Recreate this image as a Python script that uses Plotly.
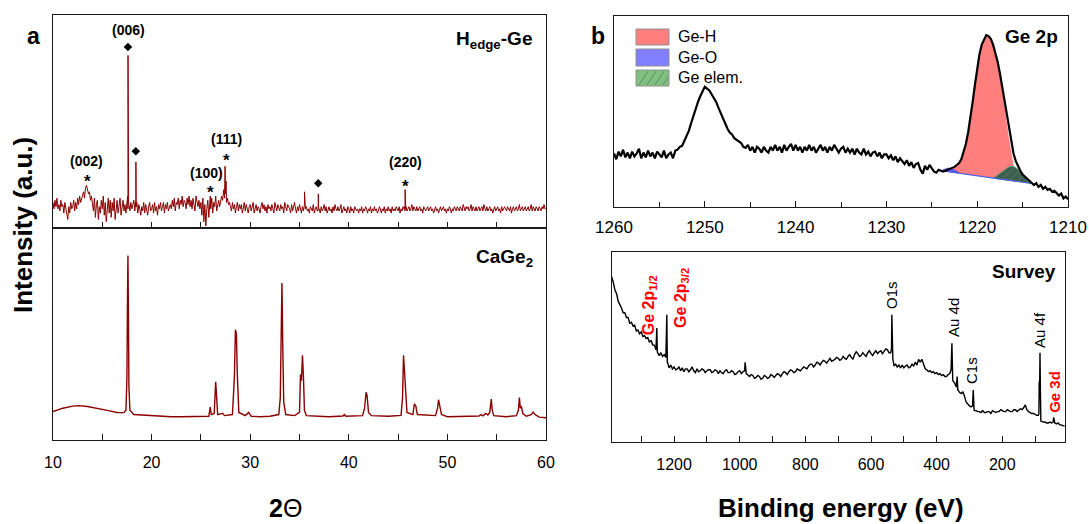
import numpy as np
import plotly.graph_objects as go

# ---------------- DATA ----------------
# (a) XRD, H_edge-Ge : baseline sampled every 0.1 deg from 10 to 60 (values read off picture)
xrd_top_start, xrd_top_step = 10.0, 0.1
xrd_top_base = [
    12, 9, 13, 10, 14, 9, 11, 8, 13, 10,
    11, 7, 12, 9, 6, 4, 10, 7, 12, 9,
    10, 13, 8, 12, 9, 14, 11, 15, 12, 14,
    15, 17, 14, 19, 20, 18, 16, 17, 13, 15,
    12, 8, 14, 5, 11, 13, 4, 10, 7, 13,
    9, 15, 6, 12, 3, 11, 14, 7, 13, 5,
    12, 8, 14, 4, 10, 13, 7, 11, 14, 6,
    10, 13, 8, 11, 7, 12, 9, 11, 8, 12,
    9, 11, 13, 8, 10, 12, 7, 11, 9, 6,
    10, 8, 12, 7, 11, 9, 6, 10, 12, 8,
    9, 11, 7, 12, 8, 10, 6, 11, 9, 12,
    8, 10, 12, 7, 11, 9, 12, 8, 10, 11,
    9, 13, 10, 14, 8, 12, 11, 14, 9, 13,
    11, 15, 10, 13, 12, 9, 14, 11, 15, 10,
    13, 9, 14, 11, 8, 15, 12, 10, 13, 9,
    12, 6, 14, 3, 11, 1, 9, 13, 5, 12,
    9, 14, 7, 12, 10, 15, 8, 11, 13, 10,
    12, 15, 13, 17, 14, 16, 12, 14, 11, 12,
    10, 8, 12, 9, 11, 7, 10, 12, 8, 11,
    9, 11, 7, 10, 12, 8, 11, 9, 7, 10,
    11, 8, 10, 12, 7, 9, 11, 8, 10, 9,
    7, 10, 12, 9, 11, 8, 10, 7, 11, 9,
    10, 8, 11, 9, 7, 12, 10, 8, 11, 9,
    8, 11, 9, 10, 7, 12, 9, 8, 11, 10,
    9, 7, 11, 8, 10, 12, 9, 7, 10, 8,
    11, 9, 7, 10, 8, 11, 9, 10, 8, 9,
    7, 10, 9, 8, 11, 7, 9, 10, 8, 10,
    9, 7, 10, 8, 9, 11, 8, 10, 7, 9,
    10, 8, 9, 7, 10, 8, 11, 9, 8, 10,
    8, 9, 11, 7, 9, 10, 8, 9, 7, 10,
    9, 7, 10, 8, 9, 7, 10, 9, 8, 9,
    7, 9, 8, 10, 7, 9, 8, 10, 9, 7,
    9, 8, 10, 7, 9, 8, 10, 8, 9, 7,
    8, 10, 9, 7, 9, 8, 10, 7, 9, 8,
    10, 8, 9, 7, 10, 8, 9, 8, 10, 9,
    8, 10, 7, 9, 8, 10, 9, 8, 10, 8,
    9, 10, 8, 9, 11, 8, 10, 9, 8, 10,
    8, 9, 10, 8, 9, 7, 10, 9, 8, 9,
    10, 8, 9, 10, 8, 9, 7, 9, 10, 8,
    9, 7, 9, 10, 8, 9, 10, 8, 9, 7,
    9, 8, 10, 9, 7, 9, 8, 10, 9, 8,
    10, 9, 8, 10, 9, 8, 11, 9, 8, 10,
    9, 10, 8, 9, 11, 8, 10, 9, 8, 10,
    8, 9, 10, 8, 9, 10, 8, 11, 9, 8,
    10, 8, 9, 10, 8, 9, 7, 9, 10, 8,
    9, 10, 8, 9, 7, 10, 8, 9, 10, 9,
    8, 10, 9, 8, 10, 7, 9, 10, 8, 9,
    10, 8, 9, 11, 8, 9, 10, 8, 9, 10,
    8, 9, 10, 8, 9, 11, 8, 10, 9, 8,
    10, 9, 8, 10, 9, 8, 10, 9, 11, 9,
    9,
]
xrd_top_peak_x = [17.57, 17.61, 17.64, 17.67, 18.37, 18.41, 18.44, 25.95,
                  27.32, 27.45, 27.55, 27.65, 35.47, 35.51, 35.54,
                  36.87, 36.91, 36.94, 45.67, 45.71, 45.75, 45.78]
xrd_top_peak_y = [15, 81, 78, 12, 12, 31, 10, 15,
                  18, 29, 22, 14, 10, 17, 9,
                  8, 16, 9, 10, 18, 14, 9]

# (a) XRD, CaGe2
xrd_bot_x = [10, 11, 12, 12.6, 13.5, 14.5, 15.5, 16.5, 17.2, 17.4, 17.5, 17.55, 17.6, 17.65, 17.7, 17.8,
             18.2, 19, 20, 21, 22, 23, 24, 25, 25.8, 25.95, 26.05, 26.35, 26.5, 26.6, 26.7, 27.2, 27.4,
             28.2, 28.4, 28.5, 28.6, 28.7, 28.85, 29.5, 29.85, 30.1, 31, 32, 32.9, 33.05, 33.15, 33.22,
             33.3, 33.4, 33.6, 34.5, 35.0, 35.1, 35.2, 35.3, 35.4, 35.5, 35.7, 37, 38, 39.4, 39.55, 39.7,
             41.4, 41.6, 41.75, 41.85, 42.0, 42.3, 44, 45.3, 45.45, 45.55, 45.65, 45.75, 45.9, 46.5,
             46.65, 46.8, 46.95, 48.8, 49.0, 49.1, 49.2, 49.4, 50, 52, 53.2, 53.4, 53.6, 53.9, 54.1,
             54.3, 54.45, 54.55, 54.7, 56, 57.0, 57.2, 57.3, 57.4, 57.5, 57.65, 58, 58.5, 58.7, 58.9,
             59.3, 60]
xrd_bot_y = [13.4, 15, 16, 16.2, 15.8, 15, 14, 13, 12.9, 14, 30, 65, 87, 60, 25, 14,
             12, 11.8, 11.5, 11.2, 11, 11, 11, 11, 11.2, 15.5, 12, 12.5, 27.5, 20, 12, 12.6, 11.5,
             12, 30, 52, 50, 30, 13, 11.5, 13, 11.2, 11, 11.2, 12, 20, 45, 74,
             45, 18, 12, 11.5, 13, 31, 28, 40, 30, 14, 11.5, 11.2, 11, 11.3, 12, 11.2,
             11.5, 15, 22.5, 21, 13, 11.5, 11.2, 11.6, 20, 40, 32, 22, 13, 12,
             17, 16, 12, 11.5, 15, 19, 17, 12, 11, 11, 11.3, 12, 11.4, 12.5, 11.8,
             13, 19.3, 14, 11.5, 11, 11.5, 14, 20, 15, 16, 12.5, 11.2, 12, 13.2, 12,
             10.8, 10.5]

# (b) XPS Ge 2p : sampled every 0.25 eV from 1260 down to 1210
ge2p_start, ge2p_step = 1260.0, -0.25
ge2p_y = [
    28, 25, 29, 26.5, 30, 26, 28.5, 25.5,
    29, 26.5, 28, 30.5, 25.5, 28.5, 26, 29.5,
    26.5, 28.5, 25.5, 29, 27.5, 26, 29.5, 25.5,
    27.5, 28.5, 25.5, 29.5, 30, 31.5, 32, 34.5,
    37, 40, 44, 48, 51, 55, 58, 61,
    63, 62, 61, 59, 57, 55, 52, 49,
    46, 44, 41, 39, 38, 36, 35, 34,
    33.5, 31.5, 31, 32.5, 29.5, 31.5, 28.5, 31.5,
    30.5, 28.5, 31.5, 29.5, 28.5, 31.5, 29.5, 32.5,
    29.5, 31.5, 28.5, 32.5, 29.5, 31.5, 33, 29.5,
    32.5, 29.5, 31.5, 28.5, 31.5, 29.5, 32.5, 29.5,
    31.5, 28.5, 30.5, 32.5, 29.5, 31.5, 28.5, 31.5,
    29.5, 32.5, 30.5, 28.5, 30.5, 31.5, 28.5, 30.5,
    28.5, 30.5, 27.5, 30.5, 28.5, 27.5, 30.5, 27.5,
    29, 26.5, 28.5, 29, 26.5, 28.5, 25.5, 27.5,
    27.5, 25.5, 27, 24.5, 26.5, 23.5, 25.5, 24,
    22.5, 24.5, 21.5, 23.5, 20.5, 22.5, 23, 19.5,
    17.5, 21.5, 19.5, 22, 20, 18.5, 18, 19.5,
    19, 18.5, 19, 19.5, 20, 20.5, 21, 22,
    23, 25, 29, 33, 39, 46, 55, 64,
    73, 80, 85, 88, 90, 89.5, 88, 85,
    81, 76, 70, 63, 56, 48, 40, 33,
    28, 24, 21, 19, 17, 16, 14.5, 14,
    13, 11.5, 12.5, 10.5, 11.5, 9.5, 10.5, 9,
    9.5, 8, 8.5, 7.5, 6, 7, 4.5, 5.5,
    4,
]
# fitted components (upper edge) and linear background end points
geh_x = [1223.5, 1223, 1222.5, 1222, 1221.5, 1221, 1220.5, 1220, 1219.5, 1219, 1218.75, 1218.5,
         1218, 1217.5, 1217, 1216.5, 1216, 1215.6, 1215.3]
geh_y = [18.9, 19.2, 20.5, 22.5, 28.5, 38.5, 54, 72, 84.5, 89.5, 89, 87.5,
         80.5, 69, 53, 36, 22, 15, 13.2]
geh_bg_x = [1215.3, 1223.5]
geh_bg_y = [13.2, 18.7]
geo_x = [1224, 1223.6, 1223.2, 1222.8, 1222.4, 1222.0]
geo_y = [19.0, 19.8, 20.4, 20.0, 19.2, 18.3]
geo_bg_x = [1222.0, 1224.0]
geo_bg_y = [18.0, 19.0]
geel_x = [1218.2, 1217.5, 1217, 1216.5, 1216.1, 1215.7, 1215.3, 1215, 1214.6, 1214.2, 1213.8]
geel_y = [15.2, 17.5, 19.5, 21, 21.3, 20.5, 18.5, 16.5, 14.5, 12.8, 12.2]
geel_bg_x = [1213.8, 1218.2]
geel_bg_y = [12.2, 15.1]

# (b) XPS survey : sampled every 5 eV from 1390 down to 10, plus peaks
surv_start, surv_step = 1390.0, -5.0
surv_base = [
    87, 84, 80, 78, 74, 72, 70.5, 68, 68, 65.5, 65.5, 62.5, 63, 61, 61.5, 58.5, 59, 57, 58, 55.5,
    56, 54.5, 55, 52.5, 53.5, 51, 51, 48.5, 47, 45.5, 47, 45, 46, 44.5, 42, 39, 40.5, 38.5, 39.5, 38,
    38.5, 39.5, 37.5, 39, 37, 38.5, 38.5, 37, 38, 39.5, 37.5, 36.5, 38.5, 37, 37.5, 38.5, 38, 36.5, 37.5, 38,
    38, 36.5, 37, 38, 37.5, 36, 37.5, 36.5, 36, 37.5, 38, 36.5, 36.5, 37.5, 37, 35.5, 36, 37, 37.5, 36,
    37, 37.5, 36, 35.5, 34.5, 35.5, 35, 33.5, 34, 35, 34.5, 33, 33.5, 35, 34.5, 33.5, 34, 35.5, 35, 34,
    35, 36, 35.5, 34.5, 36, 37, 36.5, 35.5, 37, 38, 37.5, 36.5, 37, 38.5, 38, 37.5, 38.5, 39.5, 39, 38.5,
    40, 41, 41, 39.5, 40.5, 42, 41.5, 40.5, 42, 43, 42.5, 41.5, 43, 44, 42.5, 43, 43.5, 44.5, 44, 43,
    43.5, 45, 44, 43.5, 45, 46, 44.5, 43.5, 46, 47.5, 46.5, 45, 45.5, 47, 46, 45, 47, 48, 46.5, 45.5,
    47, 48, 46.5, 47.5, 48, 46.5, 47.5, 49, 48.5, 47, 47, 55, 40, 41, 39.5, 40.5, 39, 40.5, 39, 40,
    40.5, 39, 39.5, 41, 40, 42, 40.5, 43.5, 42, 43.5, 41, 38.5, 38, 37, 37.5, 36.5, 37, 36, 36.5, 35.5,
    36, 35, 35.5, 34.5, 34.5, 35.5, 36, 44, 32, 31, 29, 27.5, 26, 25.5, 26.5, 24, 21, 20, 19, 18.5,
    21, 16.5, 16.5, 16, 16, 15.5, 16.5, 15.5, 15.5, 16, 16, 15, 16.5, 16, 15.5, 16, 16, 17, 16.5, 16,
    16, 17, 16.5, 16, 16, 17, 17, 16, 16.5, 17.5, 17, 18, 19.5, 17, 16, 15.5, 15, 15, 14.5, 14,
    14, 40, 11, 10.5, 10.5, 10, 10, 10.5, 10, 10.5, 10, 9.5, 10, 9, 9, 8.5, 8.5,
]
surv_peak_x = [1254, 1252.5, 1251, 1223.5, 1222, 1220.5, 983.5,
               537.5, 536.5, 533.5, 356, 353.5, 351, 339, 337.5, 335.5,
               290.5, 288.5, 286, 88.5, 87.5, 86.5, 85.2, 84, 82.5, 43.5]
surv_peak_y = [49, 60, 47.5, 45, 67, 42, 42,
               49, 67, 44, 38, 52, 33, 30, 34.5, 27,
               19, 27.4, 17, 15, 32, 25, 47, 28, 11, 13]

# ---------------- FIGURE ----------------
W, H = 1089, 524
def PX(p): return p / W
def PY(p): return 1 - p / H

def merged(xs, ys, px_, py_):
    x = np.concatenate([np.asarray(xs, float), np.asarray(px_, float)])
    y = np.concatenate([np.asarray(ys, float), np.asarray(py_, float)])
    o = np.argsort(x, kind="stable")
    return x[o], y[o]

top_grid = np.round(xrd_top_start + xrd_top_step * np.arange(len(xrd_top_base)), 3)
xt, yt = merged(top_grid, xrd_top_base, xrd_top_peak_x, xrd_top_peak_y)
ge2p_x = ge2p_start + ge2p_step * np.arange(len(ge2p_y))
surv_grid = surv_start + surv_step * np.arange(len(surv_base))
xs_, ys_ = merged(surv_grid, surv_base, surv_peak_x, surv_peak_y)

red = "#8B0000"
fig = go.Figure()
fig.add_trace(go.Scatter(x=xt, y=yt, mode="lines", line=dict(color=red, width=1), xaxis="x", yaxis="y"))
fig.add_trace(go.Scatter(x=xrd_bot_x, y=xrd_bot_y, mode="lines", line=dict(color=red, width=1.4), xaxis="x2", yaxis="y2"))

# XPS fitted components
fig.add_trace(go.Scatter(x=geh_x + geh_bg_x, y=geh_y + geh_bg_y, fill="toself", fillcolor="#FF7F7F",
                         line=dict(width=0), mode="lines", xaxis="x3", yaxis="y3"))
fig.add_trace(go.Scatter(x=geo_x + geo_bg_x, y=geo_y + geo_bg_y, fill="toself", fillcolor="#6060F0",
                         line=dict(width=0.8, color="#4040E0"), mode="lines", xaxis="x3", yaxis="y3"))
fig.add_trace(go.Scatter(x=geel_x + geel_bg_x, y=geel_y + geel_bg_y, fill="toself", fillcolor="#3E5E50",
                         fillpattern=dict(shape="/", bgcolor="#3E5E50", fgcolor="#7A9A8A", size=6, solidity=0.15),
                         line=dict(width=1, color="#4F9F6F"), mode="lines", xaxis="x3", yaxis="y3"))
fig.add_trace(go.Scatter(x=[geo_bg_x[1], geel_bg_x[0]], y=[geo_bg_y[1], geel_bg_y[0]], mode="lines",
                         line=dict(color="#5060E0", width=1.2), xaxis="x3", yaxis="y3"))
fig.add_trace(go.Scatter(x=ge2p_x, y=ge2p_y, mode="lines", line=dict(color="black", width=2.2), xaxis="x3", yaxis="y3"))
fig.add_trace(go.Scatter(x=xs_, y=ys_, mode="lines", line=dict(color="black", width=1.4), xaxis="x4", yaxis="y4"))

# diamond markers
dia_x = [17.6, 18.4, 36.9]
dia_y = [85, 36, 21]
fig.add_trace(go.Scatter(x=dia_x, y=dia_y, mode="markers", marker=dict(symbol="diamond", size=6.5, color="black"),
                         xaxis="x", yaxis="y"))

axline = dict(showline=True, mirror=True, linecolor="#1a1a1a", linewidth=1.4, showgrid=False, zeroline=False,
              automargin=False)
tickfont = dict(size=16, family="Arial, Liberation Sans", color="black")
xa_dom = [PX(53), PX(546)]
fig.update_layout(
    width=W, height=H, margin=dict(l=0, r=0, t=0, b=0, pad=0, autoexpand=False),
    paper_bgcolor="white", plot_bgcolor="white", showlegend=False,
    font=dict(family="Arial, Liberation Sans", color="black"),
    xaxis=dict(domain=xa_dom, anchor="y", range=[10, 60], dtick=10, ticks="inside", ticklen=6,
               tickcolor="#1a1a1a", showticklabels=False,
               minor=dict(dtick=5, ticks="inside", ticklen=6, tickcolor="#1a1a1a"), **axline),
    yaxis=dict(domain=[PY(228), PY(15)], anchor="x", range=[0, 100], showticklabels=False, ticks="", **axline),
    xaxis2=dict(domain=xa_dom, anchor="y2", range=[10, 60], dtick=10, ticks="inside", ticklen=6,
                tickcolor="#1a1a1a", tickfont=tickfont, ticklabelstandoff=8,
                minor=dict(dtick=5, ticks="inside", ticklen=6, tickcolor="#1a1a1a"), **axline),
    yaxis2=dict(domain=[PY(440), PY(228)], anchor="x2", range=[0, 100], showticklabels=False, ticks="", **axline),
    xaxis3=dict(domain=[PX(614), PX(1068)], anchor="y3", range=[1260, 1210], dtick=10, ticks="inside", ticklen=6,
                tickcolor="#1a1a1a", tickfont=dict(size=17, family="Arial, Liberation Sans", color="black"),
                ticklabelstandoff=4,
                minor=dict(dtick=5, ticks="inside", ticklen=5, tickcolor="#1a1a1a"), **axline),
    yaxis3=dict(domain=[PY(207), PY(16)], anchor="x3", range=[0, 100], showticklabels=False, ticks="", **axline),
    xaxis4=dict(domain=[PX(612), PX(1065)], anchor="y4", range=[1389, 9], tick0=0, dtick=200, ticks="inside",
                ticklen=6, tickcolor="#1a1a1a", tickfont=tickfont, ticklabelstandoff=8,
                minor=dict(dtick=100, ticks="inside", ticklen=6, tickcolor="#1a1a1a"), **axline),
    yaxis4=dict(domain=[PY(442), PY(252)], anchor="x4", range=[0, 100], showticklabels=False, ticks="", **axline),
)

ann = []
def A(text, x, y, xref="paper", yref="paper", size=14, bold=False, color="black", angle=0,
      xanchor="center", yanchor="middle", yshift=0):
    t = f"<b>{text}</b>" if bold else text
    ann.append(dict(text=t, x=x, y=y, xref=xref, yref=yref, showarrow=False, textangle=angle,
                    font=dict(size=size, color=color, family="Arial, Liberation Sans"),
                    xanchor=xanchor, yanchor=yanchor, yshift=yshift))

# XRD peak labels
for txt, x, y in [("(006)", 17.7, 93), ("(002)", 13.4, 31.5), ("(100)", 25.6, 26), ("(111)", 27.6, 42), ("(220)", 45.7, 31)]:
    A(txt, x, y, "x", "y", size=14, bold=True)
for x, y in [(13.5, 24), (26.0, 19), (27.6, 34), (45.7, 22)]:
    A("*", x, y, "x", "y", size=17, bold=True, yshift=-5)
A("H<sub>edge</sub>-Ge", PX(534), PY(40), size=19, bold=True, xanchor="right")
A("CaGe<sub>2</sub>", PX(535), PY(258), size=19, bold=True, xanchor="right")
A("Ge 2p", PX(1060), PY(36), size=19, bold=True, xanchor="right")
A("Survey", PX(1058), PY(271), size=19, bold=True, xanchor="right")
A("a", PX(33), PY(36), size=23, bold=True)
A("b", PX(598), PY(36), size=23, bold=True)

# survey peak labels (rotated)
A("Ge 2p<sub>1/2</sub>", 1276, 72, "x4", "y4", size=16, bold=True, color="#FF0000", angle=-90)
A("Ge 2p<sub>3/2</sub>", 1176, 75.8, "x4", "y4", size=16, bold=True, color="#FF0000", angle=-90)
A("O1s", 536, 77.4, "x4", "y4", size=15, angle=-90)
A("Au 4d", 347, 65.3, "x4", "y4", size=15, angle=-90)
A("C1s", 292, 37.4, "x4", "y4", size=15, angle=-90)
A("Au 4f", 85, 59, "x4", "y4", size=15, angle=-90)
A("Ge 3d", 43, 26.3, "x4", "y4", size=15, bold=True, color="#FF0000", angle=-90)

# axis titles
A("Intensity (a.u.)", PX(23), PY(225), size=26, bold=True, angle=-90)
A("<b>2</b>Θ", PX(285), PY(508), size=25)
A("Binding energy (eV)", PX(841), PY(508), size=26, bold=True)

# legend for the fit components
leg_items = [("Ge-H", "#FF7F7F", 29, 45), ("Ge-O", "#7F7FFF", 49, 66), ("Ge elem.", "#80C080", 70, 86)]
shapes = []
for name, col, y0, y1 in leg_items:
    shapes.append(dict(type="rect", xref="paper", yref="paper", x0=PX(636), x1=PX(669), y0=PY(y1), y1=PY(y0),
                       fillcolor=col, line=dict(color="#909090", width=1)))
    A(name, PX(676), PY((y0 + y1) / 2), size=16, xanchor="left")
for k in range(4):
    xa0 = 636 + 3 + k * 8
    xa1 = min(xa0 + 9, 668)
    shapes.append(dict(type="line", xref="paper", yref="paper", x0=PX(xa0), y0=PY(85),
                       x1=PX(xa1), y1=PY(85 - 14 * (xa1 - xa0) / 9),
                       line=dict(color="#4F7F5F", width=0.8)))

fig.update_layout(annotations=ann, shapes=shapes)
fig.write_html("out.html", config={"displayModeBar": False},
               post_script="document.body.style.margin='0px';document.body.style.overflow='hidden';")
